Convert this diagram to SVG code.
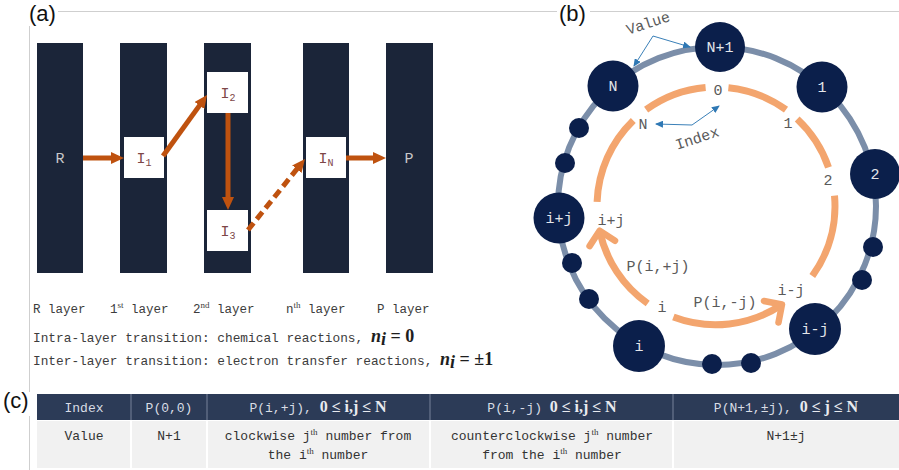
<svg xmlns="http://www.w3.org/2000/svg" width="899" height="470" viewBox="0 0 899 470">
<style>
.frame{stroke:#cfcfcf;stroke-width:1;fill:none}
.plabel{font-family:"Liberation Sans",Arial,sans-serif;font-size:22px;fill:#111}
.bar{fill:#1b2539}
.ibox{fill:#ffffff}
.barlbl{font-family:"Liberation Mono",monospace;font-size:15px;fill:#c9c9c9;text-anchor:middle}
.ilbl{font-family:"Liberation Mono",monospace;font-size:15px;fill:#7d4747;text-anchor:middle}
.sub{font-size:10px}
.arr{stroke:#bf520f;stroke-width:5;fill:none;marker-end:url(#ah)}
.mono{font-family:"Liberation Mono",monospace;font-size:12.5px;fill:#3c3c3c}
.mono2{font-family:"Liberation Mono",monospace;font-size:12.8px;fill:#3c3c3c}
.math{font-family:"Liberation Serif",serif;font-weight:bold;font-size:18px;fill:#1e1e1e}
.ring{stroke:#7b8ea9;stroke-width:6;fill:none}
.big{fill:#0b1f4b}
.nlbl{font-family:"Liberation Mono",monospace;font-size:15px;fill:#e4e6ea;text-anchor:middle}
.orng{stroke:#f3a56e;stroke-width:7;fill:none}
.oarr{stroke:#f3a56e;stroke-width:7;fill:none;marker-end:url(#oh)}
.inl{font-family:"Liberation Mono",monospace;font-size:15px;fill:#5a5a5a;text-anchor:middle}
.blue{stroke:#3a80b8;stroke-width:1;fill:none}
.bluea{stroke:#3a80b8;stroke-width:1;fill:none;marker-end:url(#bh)}
.th{fill:#2c3b57}
.td{fill:#f1f1f1}
.hsep{stroke:#76829a;stroke-width:1}
.bsep{stroke:#ffffff;stroke-width:2}
.htx{font-family:"Liberation Mono",monospace;font-size:13px;fill:#d9dde5;text-anchor:middle}
.hmath{font-family:"Liberation Serif",serif;font-weight:bold;font-size:16px;fill:#e8eaef}
.btx{font-family:"Liberation Mono",monospace;font-size:13px;fill:#333;text-anchor:middle}
.sup{font-family:"Liberation Serif",serif;font-size:9px}
</style>
<defs>
<marker id="ah" markerUnits="userSpaceOnUse" markerWidth="13" markerHeight="12" refX="3" refY="6" orient="auto"><path d="M0,0 L13,6 L0,12 z" fill="#bf520f"/></marker>
<marker id="oh" markerUnits="userSpaceOnUse" markerWidth="32" markerHeight="32" refX="16" refY="16" orient="auto" overflow="visible"><path d="M3,3 L16,16 L3,29" fill="none" stroke="#f3a56e" stroke-width="6.5" stroke-linecap="round" stroke-linejoin="round"/></marker>
<marker id="bh" markerUnits="userSpaceOnUse" markerWidth="8" markerHeight="7" refX="7" refY="3.5" orient="auto"><path d="M0,0 L8,3.5 L0,7 z" fill="#2f78b4"/></marker>
</defs>

<g id="frame">
<line class="frame" x1="58" y1="11.5" x2="557" y2="11.5"/>
<line class="frame" x1="590" y1="11.5" x2="899" y2="11.5"/>
<line class="frame" x1="29.5" y1="26" x2="29.5" y2="392"/>
<line class="frame" x1="29.5" y1="416" x2="29.5" y2="470"/>
</g>
<text class="plabel" x="29" y="21">(a)</text>
<text class="plabel" x="559" y="21">(b)</text>
<text class="plabel" x="3" y="408">(c)</text>

<!-- panel (a) -->
<g id="layer-R"><rect class="bar" x="37" y="43" width="46" height="230"/><text class="barlbl" x="60" y="163">R</text></g>
<g id="layer-1"><rect class="bar" x="120" y="43" width="47" height="230"/></g>
<g id="layer-2"><rect class="bar" x="204" y="43" width="47" height="230"/></g>
<g id="layer-n"><rect class="bar" x="303" y="43" width="46" height="230"/></g>
<g id="layer-P"><rect class="bar" x="386" y="43" width="47" height="230"/><text class="barlbl" x="409" y="163">P</text></g>
<g id="I1"><rect class="ibox" x="124" y="137" width="40" height="41"/><text class="ilbl" x="144" y="163">I<tspan class="sub" dy="3">1</tspan></text></g>
<g id="I2"><rect class="ibox" x="207" y="72" width="41" height="41"/><text class="ilbl" x="228" y="98">I<tspan class="sub" dy="3">2</tspan></text></g>
<g id="I3"><rect class="ibox" x="207" y="210" width="41" height="41"/><text class="ilbl" x="228" y="236">I<tspan class="sub" dy="3">3</tspan></text></g>
<g id="IN"><rect class="ibox" x="306" y="137" width="40" height="41"/><text class="ilbl" x="326" y="163">I<tspan class="sub" dy="3">N</tspan></text></g>
<g id="connectors-a">
<line class="arr" x1="83" y1="158" x2="114" y2="158"/>
<line class="arr" x1="163" y1="156" x2="201.2" y2="103.1"/>
<line class="arr" x1="228" y1="113" x2="228" y2="200"/>
<line class="arr" x1="248" y1="230" x2="298.7" y2="166.8" stroke-dasharray="9 5"/>
<line class="arr" x1="346" y1="158" x2="376" y2="158"/>
</g>
<text class="mono" x="33" y="313">R layer</text>
<text class="mono" x="110" y="313">1<tspan class="sup" dy="-5">st</tspan><tspan dy="5"> layer</tspan></text>
<text class="mono" x="193" y="313">2<tspan class="sup" dy="-5">nd</tspan><tspan dy="5"> layer</tspan></text>
<text class="mono" x="286" y="313">n<tspan class="sup" dy="-5">th</tspan><tspan dy="5"> layer</tspan></text>
<text class="mono" x="377" y="313">P layer</text>
<text class="mono2" x="33" y="342" xml:space="preserve">Intra-layer transition: chemical reactions, <tspan class="math" font-style="italic">n</tspan><tspan class="math" font-style="italic" font-size="11px" dy="3">i</tspan><tspan class="math" dy="-3"> = 0</tspan></text>
<text class="mono2" x="33" y="365" xml:space="preserve">Inter-layer transition: electron transfer reactions, <tspan class="math" font-style="italic">n</tspan><tspan class="math" font-style="italic" font-size="11px" dy="3">i</tspan><tspan class="math" dy="-3"> = ±1</tspan></text>

<!-- panel (b) -->
<g id="ring"><circle class="ring" cx="717" cy="206" r="159"/></g>
<g id="connectors-b">
<path class="orng" d="M646.1,109.7 A119,119 0 0 1 705.6,87.5"/>
<path class="orng" d="M728.4,87.7 A119,119 0 0 1 786,109.7"/>
<path class="orng" d="M797.2,119 A119,119 0 0 1 828.5,167.3"/>
<path class="orng" d="M834.5,195.6 A119,119 0 0 1 812.3,276"/>
<path class="orng" d="M597.1,201.8 A119,119 0 0 1 633.3,120.4"/>
<path class="oarr" d="M673.4,317.1 A119,119 0 0 0 782,304.5"/>
<path class="oarr" d="M647.7,303.5 A119,119 0 0 1 599.6,230.7"/>
<line class="bluea" x1="653" y1="36" x2="690" y2="47"/>
<line class="bluea" x1="653" y1="36" x2="634" y2="66"/>
<line class="bluea" x1="692" y1="125" x2="719" y2="106"/>
<line class="bluea" x1="692" y1="125" x2="656" y2="124"/>
</g>
<g id="dots">
<circle class="big" cx="579" cy="128" r="10"/>
<circle class="big" cx="565" cy="163" r="10"/>
<circle class="big" cx="572" cy="263" r="10"/>
<circle class="big" cx="589" cy="299" r="10"/>
<circle class="big" cx="712" cy="364" r="10"/>
<circle class="big" cx="751" cy="363" r="10"/>
<circle class="big" cx="873" cy="247" r="10"/>
<circle class="big" cx="862" cy="280" r="10"/>
</g>
<g id="node-N1"><circle class="big" cx="720" cy="47" r="25"/><text class="nlbl" x="720" y="52">N+1</text></g>
<g id="node-N"><circle class="big" cx="613" cy="86" r="25.5"/><text class="nlbl" x="613" y="91">N</text></g>
<g id="node-1"><circle class="big" cx="822" cy="87" r="25.5"/><text class="nlbl" x="822" y="92">1</text></g>
<g id="node-2"><circle class="big" cx="875" cy="174" r="25"/><text class="nlbl" x="875" y="179">2</text></g>
<g id="node-ipj"><circle class="big" cx="559" cy="218" r="25.5"/><text class="nlbl" x="559" y="223">i+j</text></g>
<g id="node-i"><circle class="big" cx="639" cy="346" r="26"/><text class="nlbl" x="639" y="351">i</text></g>
<g id="node-imj"><circle class="big" cx="815" cy="329" r="26"/><text class="nlbl" x="815" y="334">i-j</text></g>
<text class="inl" x="718" y="95">0</text>
<text class="inl" x="643" y="129">N</text>
<text class="inl" x="788" y="128">1</text>
<text class="inl" x="828" y="185">2</text>
<text class="inl" x="611" y="225">i+j</text>
<text class="inl" x="658" y="271">P(i,+j)</text>
<text class="inl" x="662" y="312">i</text>
<text class="inl" x="725" y="307">P(i,-j)</text>
<text class="inl" x="791" y="295">i-j</text>
<text class="inl" x="648" y="28" font-size="13px" transform="rotate(-18 648 23)">Value</text>
<text class="inl" x="697" y="143" font-size="13px" transform="rotate(-18 697 138)">Index</text>

<!-- panel (c) -->
<g id="table">
<rect class="th" x="37" y="394" width="862" height="26"/>
<rect class="td" x="37" y="421" width="862" height="47"/>
<line class="hsep" x1="131" y1="394" x2="131" y2="420"/>
<line class="hsep" x1="207" y1="394" x2="207" y2="420"/>
<line class="hsep" x1="430" y1="394" x2="430" y2="420"/>
<line class="hsep" x1="673" y1="394" x2="673" y2="420"/>
<line class="bsep" x1="131" y1="421" x2="131" y2="468"/>
<line class="bsep" x1="207" y1="421" x2="207" y2="468"/>
<line class="bsep" x1="430" y1="421" x2="430" y2="468"/>
<line class="bsep" x1="673" y1="421" x2="673" y2="468"/>
<text class="htx" x="84" y="412">Index</text>
<text class="htx" x="169" y="412">P(0,0)</text>
<text class="htx" x="318" y="412" xml:space="preserve">P(i,+j), <tspan class="hmath">0 ≤ i,j ≤ N</tspan></text>
<text class="htx" x="552" y="412" xml:space="preserve">P(i,-j) <tspan class="hmath">0 ≤ i,j ≤ N</tspan></text>
<text class="htx" x="786" y="412" xml:space="preserve">P(N+1,±j), <tspan class="hmath">0 ≤ j ≤ N</tspan></text>
<text class="btx" x="84" y="440">Value</text>
<text class="btx" x="169" y="440">N+1</text>
<text class="btx" x="318" y="440">clockwise j<tspan class="sup" dy="-5">th</tspan><tspan dy="5"> number from</tspan></text>
<text class="btx" x="318" y="459">the i<tspan class="sup" dy="-5">th</tspan><tspan dy="5"> number</tspan></text>
<text class="btx" x="552" y="440">counterclockwise j<tspan class="sup" dy="-5">th</tspan><tspan dy="5"> number</tspan></text>
<text class="btx" x="552" y="459">from the i<tspan class="sup" dy="-5">th</tspan><tspan dy="5"> number</tspan></text>
<text class="btx" x="786" y="440">N+1±j</text>
</g>
</svg>
